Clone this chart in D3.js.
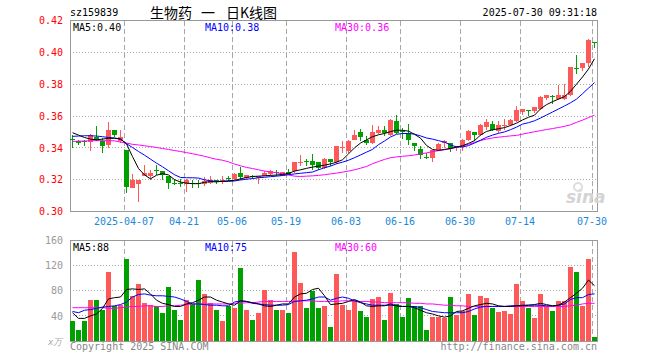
<!DOCTYPE html>
<html>
<head>
<meta charset="utf-8">
<script src="https://cdn.jsdelivr.net/npm/d3@7"></script>
<style>
body { margin: 0; background: #fff; }
text { font-family: "DejaVu Sans Mono", monospace; }
</style>
</head>
<body>
<svg id="chart" width="660" height="360"></svg>
<script>
// daily candles, 2025-03-24 .. 2025-07-30
var opens = [.3455,.3440,.3445,.3435,.3465,.3445,.3415,.3515,.3440,.3385,
  .3150,.3170,.3225,.3225,.3262,.3255,.3225,.3180,.3177,.3170,
  .3180,.3180,.3175,.3180,.3195,.3185,.3210,.3203,.3241,.3208,
  .3222,.3209,.3224,.3237,.3246,.3224,.3249,.3252,.3306,.3315,
  .3315,.3308,.3273,.3330,.3308,.3400,.3377,.3451,.3497,.3451,
  .3430,.3493,.3514,.3482,.3566,.3505,.3492,.3430,.3395,.3345,
  .3335,.3384,.3430,.3430,.3398,.3405,.3447,.3499,.3482,.3530,
  .3549,.3503,.3535,.3545,.3566,.3625,.3636,.3629,.3646,.3713,
  .3725,.3707,.3707,.3732,.3903,.3902,.3930,.4068];
var highs = [.3483,.3448,.3450,.3490,.3535,.3460,.3565,.3515,.3510,.3385,
  .3235,.3195,.3295,.3260,.3290,.3255,.3225,.3205,.3205,.3205,
  .3200,.3195,.3215,.3225,.3200,.3225,.3225,.3245,.3277,.3229,
  .3231,.3226,.3256,.3262,.3262,.3250,.3267,.3308,.3357,.3330,
  .3363,.3308,.3336,.3330,.3409,.3440,.3451,.3514,.3518,.3472,
  .3545,.3535,.3535,.3581,.3608,.3525,.3552,.3430,.3409,.3365,
  .3388,.3430,.3451,.3430,.3413,.3455,.3514,.3499,.3549,.3581,
  .3566,.3566,.3581,.3581,.3660,.3644,.3639,.3656,.3727,.3734,
  .3734,.3795,.3801,.3906,.3982,.3935,.4086,.4068];
var lows = [.3400,.3420,.3410,.3380,.3440,.3370,.3400,.3465,.3430,.3115,
  .3145,.3060,.3220,.3195,.3230,.3200,.3140,.3165,.3155,.3125,
  .3145,.3145,.3160,.3170,.3175,.3170,.3190,.3195,.3195,.3195,
  .3205,.3174,.3220,.3220,.3220,.3220,.3231,.3245,.3283,.3285,
  .3262,.3258,.3266,.3287,.3300,.3367,.3367,.3451,.3440,.3420,
  .3424,.3487,.3476,.3476,.3487,.3455,.3420,.3383,.3330,.3327,
  .3308,.3377,.3398,.3371,.3377,.3377,.3440,.3440,.3476,.3514,
  .3503,.3493,.3514,.3535,.3560,.3604,.3597,.3618,.3639,.3702,
  .3677,.3702,.3702,.3727,.3862,.3880,.3906,.4028];
var closes = [.3448,.3432,.3435,.3480,.3450,.3410,.3515,.3480,.3465,.3155,
  .3195,.3195,.3245,.3245,.3258,.3230,.3180,.3177,.3173,.3195,
  .3176,.3177,.3190,.3200,.3190,.3195,.3205,.3237,.3214,.3228,
  .3218,.3220,.3245,.3252,.3243,.3249,.3238,.3308,.3310,.3311,
  .3294,.3273,.3330,.3308,.3409,.3405,.3445,.3482,.3465,.3430,
  .3499,.3514,.3493,.3577,.3493,.3503,.3449,.3411,.3356,.3343,
  .3384,.3426,.3440,.3392,.3409,.3451,.3503,.3482,.3545,.3560,
  .3509,.3545,.3545,.3577,.3639,.3644,.3634,.3656,.3720,.3734,
  .3722,.3734,.3734,.3906,.3900,.3935,.4080,.4066];

// moving averages as drawn
var ma5 = [.3495,.3480,.3465,.3455,.3450,.3455,.3460,.3460,.3455,.3425,
  .3345,.3270,.3230,.3205,.3228,.3238,.3230,.3200,.3185,.3178,
  .3175,.3175,.3183,.3188,.3186,.3190,.3193,.3196,.3205,.3214,
  .3220,.3222,.3224,.3227,.3229,.3233,.3239,.3254,.3262,.3271,
  .3279,.3285,.3291,.3299,.3310,.3325,.3362,.3400,.3430,.3450,
  .3470,.3482,.3490,.3502,.3511,.3510,.3505,.3485,.3461,.3415,
  .3390,.3384,.3390,.3396,.3405,.3413,.3428,.3445,.3480,.3503,
  .3513,.3520,.3527,.3540,.3555,.3575,.3592,.3605,.3645,.3671,
  .3690,.3706,.3722,.3755,.3800,.3845,.3895,.3960];
var ma10 = [.3472,.3474,.3476,.3476,.3474,.3470,.3465,.3462,.3455,.3426,
  .3402,.3377,.3354,.3329,.3304,.3281,.3256,.3231,.3214,.3212,
  .3212,.3210,.3199,.3193,.3189,.3189,.3189,.3192,.3198,.3203,
  .3207,.3212,.3215,.3219,.3222,.3226,.3231,.3236,.3240,.3244,
  .3248,.3262,.3275,.3285,.3300,.3310,.3322,.3338,.3355,.3373,
  .3390,.3420,.3443,.3468,.3485,.3490,.3490,.3486,.3475,.3462,
  .3455,.3445,.3436,.3418,.3406,.3405,.3414,.3430,.3448,.3466,
  .3480,.3491,.3500,.3514,.3530,.3549,.3558,.3570,.3587,.3606,
  .3625,.3644,.3663,.3683,.3706,.3740,.3775,.3810];
var ma30 = [.3440,.3442,.3443,.3444,.3445,.3445,.3445,.3444,.3436,.3430,
  .3422,.3418,.3413,.3408,.3402,.3396,.3390,.3383,.3377,.3370,
  .3363,.3355,.3347,.3337,.3328,.3322,.3312,.3298,.3287,.3277,
  .3270,.3262,.3254,.3249,.3243,.3237,.3230,.3222,.3220,.3222,
  .3224,.3227,.3231,.3236,.3241,.3247,.3254,.3262,.3272,.3283,
  .3300,.3314,.3327,.3338,.3343,.3347,.3350,.3355,.3362,.3368,
  .3376,.3382,.3388,.3394,.3403,.3413,.3422,.3434,.3446,.3455,
  .3462,.3467,.3471,.3475,.3478,.3486,.3494,.3501,.3508,.3515,
  .3521,.3528,.3535,.3545,.3560,.3574,.3590,.3606];

// volume (x万)
var volume = [32,18,32,65,66,50,110,55,58,131,
  71,90,61,58,55,45,86,50,34,65,
  59,97,75,61,50,32,55,52,117,50,
  33,45,81,66,50,50,44,142,92,53,
  80,52,55,23,106,57,50,65,47,39,
  67,70,34,76,59,38,68,55,55,18,
  38,39,36,70,42,47,75,42,71,68,
  53,46,47,43,91,63,53,36,75,55,
  48,64,64,118,110,55,131,6];
var vma5 = [45,36,36,40,43,52,67,69,70,82,
  83,82,83,75,65,60,58,55,55,59,
  61,65,70,70,65,62,59,57,64,63,
  61,59,56,55,57,59,59,70,75,76,
  82,84,72,58,59,60,63,66,62,56,
  55,56,56,59,56,55,55,53,49,45,
  43,40,38,40,47,48,52,56,58,60,
  59,56,55,55,56,57,57,58,60,58,
  56,57,62,69,76,84,97,88];
var vma10 = [47,45,49,50,52,54,55,56,58,62,
  70,74,75,73,72,72,71,70,67,63,
  59,59,58,57,57,56,56,62,64,63,
  60,59,58,57,57,57,58,63,64,65,
  67,70,70,65,68,70,68,64,61,59,
  57,57,57,57,56,55,55,55,53,50,
  47,46,45,45,45,45,47,51,54,55,
  55,55,55,56,56,56,57,57,57,56,
  56,57,59,66,69,69,74,75];
var vma30 = [53,53,53,53,53,53,52,52,53,54,
  55,55,56,56,55,55,56,56,57,58,
  59,59,59,59,59,59,59,60,60,61,
  61,62,63,63,63,63,63,63,64,64,
  64,63,63,63,63,64,64,63,63,63,
  62,62,61,61,61,61,61,60,60,59,
  59,58,57,57,56,56,55,55,55,55,
  55,55,55,55,55,55,55,55,55,55,
  55,55,55,56,57,59,60,60];

var tickIndex = [9,19,27,36,46,55,65,75,87];
var tickLabels = ["2025-04-07","04-21","05-06","05-19","06-03","06-16","06-30","07-14","07-30"];
var priceTicks = [0.30,0.32,0.34,0.36,0.38,0.40,0.42];
var volTicks = [40,80,120,160];

var RED = "#ff5858", GREEN = "#00a000", GRID = "#a8a8a8", FRAME = "#999";

var svg = d3.select("#chart");
var n = closes.length;
var x = d3.scaleBand().domain(d3.range(n)).range([70, 598]);
var y = d3.scaleLinear().domain([0.30, 0.42]).range([211.5, 20.5]);
var yv = d3.scaleLinear().domain([0, 160]).range([341, 240.5]);
var cx = function(i) { return x(i) + 2.5; };

// header
svg.append("text").attr("x", 70).attr("y", 16).attr("font-size", 10).attr("fill", "#000").text("sz159839");
var title = svg.append("text").attr("y", 18).attr("font-size", 14)
  .style("font-family", "'Noto Sans CJK SC'").attr("fill", "#000");
title.append("tspan").attr("x", 150).text("生物药");
title.append("tspan").attr("x", 201).text("一");
title.append("tspan").attr("x", 226).text("日K线图");
svg.append("text").attr("x", 597).attr("y", 16).attr("font-size", 10).attr("text-anchor", "end")
  .attr("fill", "#000").text("2025-07-30 09:31:18");

// grids
var grid = svg.append("g").attr("shape-rendering", "crispEdges");
priceTicks.slice(1, -1).forEach(function(t) {
  grid.append("line").attr("x1", 70).attr("x2", 597).attr("y1", y(t)).attr("y2", y(t))
    .attr("stroke", GRID).attr("stroke-dasharray", "1,2");
});
volTicks.slice(0, -1).forEach(function(t) {
  grid.append("line").attr("x1", 70).attr("x2", 597).attr("y1", yv(t)).attr("y2", yv(t))
    .attr("stroke", GRID).attr("stroke-dasharray", "1,2");
});
tickIndex.forEach(function(i) {
  var xx = Math.round(x(i)) + 0.5;
  grid.append("line").attr("x1", xx).attr("x2", xx).attr("y1", 21).attr("y2", 211)
    .attr("stroke", GRID).attr("stroke-dasharray", "5,3");
  grid.append("line").attr("x1", xx).attr("x2", xx).attr("y1", 241).attr("y2", 341)
    .attr("stroke", GRID).attr("stroke-dasharray", "5,3");
});

// frames
svg.append("rect").attr("x", 70.5).attr("y", 20.5).attr("width", 527).attr("height", 191)
  .attr("fill", "none").attr("stroke", FRAME);
svg.append("rect").attr("x", 70.5).attr("y", 240.5).attr("width", 527).attr("height", 101)
  .attr("fill", "none").attr("stroke", FRAME);

// axes
var yAxis = d3.axisLeft(y).tickValues(priceTicks).tickSize(0).tickPadding(4).tickFormat(d3.format(".2f"));
var ga = svg.append("g").attr("transform", "translate(67,0)").call(yAxis);
ga.select(".domain").remove();
ga.selectAll("text").attr("fill", "#f00").attr("font-size", 10).style("font-family", "'DejaVu Sans Mono'");

var vAxis = d3.axisLeft(yv).tickValues(volTicks).tickSize(0).tickPadding(4);
var gv = svg.append("g").attr("transform", "translate(67,0)").call(vAxis);
gv.select(".domain").remove();
gv.selectAll("text").attr("fill", "#999").attr("font-size", 10).style("font-family", "'DejaVu Sans Mono'");
svg.append("text").attr("x", 48).attr("y", 345).attr("font-size", 9).attr("fill", "#aaa")
  .attr("font-style", "italic").text("x万");

var xg = svg.append("g");
tickIndex.forEach(function(i, k) {
  xg.append("text").attr("x", x(i)).attr("y", 225).attr("font-size", 10).attr("text-anchor", "middle")
    .attr("fill", "#1a88d8").text(tickLabels[k]);
});

// watermark
svg.append("text").attr("x", 566).attr("y", 203).attr("font-size", 17).attr("font-weight", "bold")
  .attr("font-style", "italic").style("font-family", "'DejaVu Sans'").attr("fill", "#d4d4d4").text("sina");
svg.append("circle").attr("cx", 578).attr("cy", 187).attr("r", 4).attr("fill", "none")
  .attr("stroke", "#ddd").attr("stroke-width", 2);

// candles
var cg = svg.append("g").attr("shape-rendering", "crispEdges");
d3.range(n).forEach(function(i) {
  var o = opens[i], c = closes[i];
  var col = c >= o ? RED : GREEN;
  cg.append("line").attr("x1", cx(i)).attr("x2", cx(i)).attr("y1", y(highs[i])).attr("y2", y(lows[i]))
    .attr("stroke", col);
  var top = y(Math.max(o, c)), bot = y(Math.min(o, c));
  cg.append("rect").attr("x", x(i)).attr("y", top).attr("width", 5).attr("height", Math.max(1, bot - top))
    .attr("fill", col);
  cg.append("rect").attr("x", x(i)).attr("y", yv(volume[i])).attr("width", 5)
    .attr("height", yv(0) - yv(volume[i])).attr("fill", col);
});

// MA lines
function maLine(arr, sc, color) {
  var line = d3.line().x(function(d, i) { return cx(i); }).y(function(d) { return sc(d); });
  svg.append("path").datum(arr).attr("d", line).attr("fill", "none").attr("stroke", color).attr("stroke-width", 1);
}
maLine(ma30, y, "#ff00ff");
maLine(ma10, y, "#0000ff");
maLine(ma5, y, "#000");
maLine(vma30, yv, "#ff00ff");
maLine(vma10, yv, "#0000ff");
maLine(vma5, yv, "#000");

// legends
var legendData = [
  {t: "MA5:0.40", c: "#000", x: 73, y: 31},
  {t: "MA10:0.38", c: "#0000ff", x: 205, y: 31},
  {t: "MA30:0.36", c: "#ff00ff", x: 335, y: 31},
  {t: "MA5:88", c: "#000", x: 73, y: 251},
  {t: "MA10:75", c: "#0000ff", x: 205, y: 251},
  {t: "MA30:60", c: "#ff00ff", x: 335, y: 251}
];
legendData.forEach(function(d) {
  svg.append("text").attr("x", d.x).attr("y", d.y).attr("font-size", 10).attr("fill", d.c).text(d.t);
});

// footer
svg.append("text").attr("x", 70).attr("y", 350).attr("font-size", 10).attr("fill", "#888").text("Copyright 2025 SINA.COM");
svg.append("text").attr("x", 597).attr("y", 350).attr("font-size", 10).attr("text-anchor", "end")
  .attr("fill", "#888").text("http://finance.sina.com.cn");
</script>
</body>
</html>
